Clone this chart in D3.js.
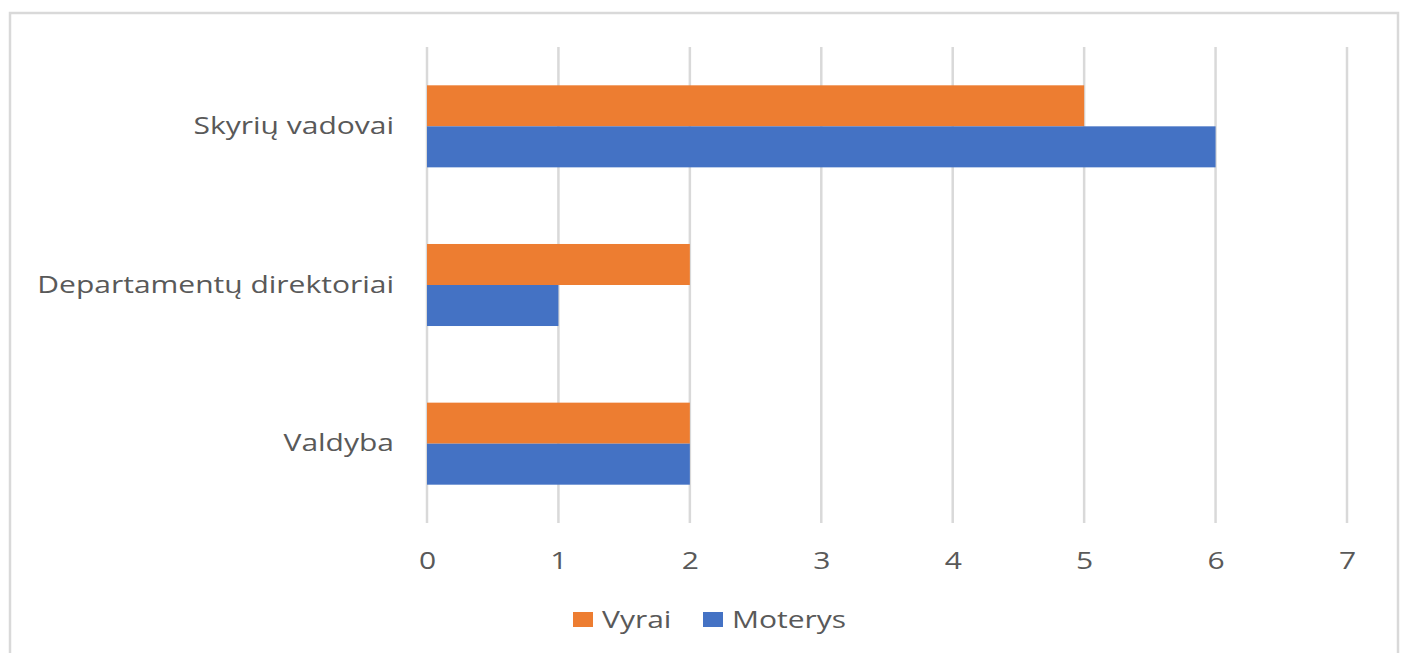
<!DOCTYPE html>
<html>
<head>
<meta charset="utf-8">
<script src="https://cdn.jsdelivr.net/npm/d3@7"></script>
<style>
  body { margin: 0; background: #fff; }
  text { font-family: "Open Sans", "Noto Sans", sans-serif; fill: #595959; }
</style>
</head>
<body>
<svg width="1403" height="653"></svg>
<script>
/* ===============================
   Data
   =============================== */
let categories = ["Skyrių vadovai", "Departamentų direktoriai", "Valdyba"];
let seriesNames = ["Vyrai", "Moterys"];
let vyrai = [5, 2, 2];
let moterys = [6, 1, 2];
let tickValues = [0, 1, 2, 3, 4, 5, 6, 7];
let colors = ["#ed7d31", "#4472c4"];

let rows = categories.map((c, i) => ({ cat: c, values: [vyrai[i], moterys[i]] }));

/* ===============================
   Select SVG, frame
   =============================== */
let svg = d3.select("svg");

svg.append("rect")
    .attr("x", 10)
    .attr("y", 13)
    .attr("width", 1388)
    .attr("height", 700)
    .attr("fill", "none")
    .attr("stroke", "#d9d9d9")
    .attr("stroke-width", 2.5);

/* ===============================
   Scales
   =============================== */
let x = d3.scaleLinear().domain([0, 7]).range([427, 1347]);

let y = d3.scaleBand()
    .domain(categories)
    .range([47, 523])
    .paddingInner(0.483)
    .paddingOuter(0.2415);

let ySub = d3.scaleBand()
    .domain(seriesNames)
    .range([0, y.bandwidth()]);

/* ===============================
   Gridlines
   =============================== */
svg.append("g")
    .selectAll("line")
    .data(tickValues)
    .join("line")
    .attr("x1", d => x(d))
    .attr("x2", d => x(d))
    .attr("y1", 47)
    .attr("y2", 523)
    .attr("stroke", "#d9d9d9")
    .attr("stroke-width", 2.5);

/* ===============================
   Bars
   =============================== */
let groups = svg.append("g")
    .selectAll("g")
    .data(rows)
    .join("g")
    .attr("transform", d => `translate(0,${y(d.cat)})`);

groups.selectAll("rect")
    .data(d => d.values.map((v, i) => ({ name: seriesNames[i], value: v, color: colors[i] })))
    .join("rect")
    .attr("x", x(0))
    .attr("y", d => ySub(d.name))
    .attr("width", d => x(d.value) - x(0))
    .attr("height", ySub.bandwidth())
    .attr("fill", d => d.color);

/* ===============================
   Axis labels (text is a bit wide in the original)
   =============================== */
let stretch = "scale(1.25,1)";

let xAxis = svg.append("g")
    .attr("transform", "translate(0,523)")
    .call(d3.axisBottom(x).tickValues(tickValues).tickFormat(d3.format("d")).tickSize(0).tickPadding(29));
xAxis.select(".domain").remove();
xAxis.selectAll("text")
    .attr("font-size", 24)
    .attr("font-family", null)
    .attr("transform", stretch);

let yAxis = svg.append("g")
    .attr("transform", "translate(394,0)")
    .call(d3.axisLeft(y).tickSize(0).tickPadding(0));
yAxis.select(".domain").remove();
yAxis.selectAll("text")
    .attr("font-size", 24)
    .attr("font-family", null)
    .attr("transform", stretch);

/* ===============================
   Legend
   =============================== */
let legendX = [573, 703];
let legend = svg.append("g")
    .selectAll("g")
    .data(seriesNames)
    .join("g")
    .attr("transform", (d, i) => `translate(${legendX[i]},612)`);

legend.append("rect")
    .attr("width", 20)
    .attr("height", 15)
    .attr("fill", (d, i) => colors[i]);

legend.append("text")
    .attr("transform", "translate(29,16) " + stretch)
    .attr("font-size", 24)
    .text(d => d);
</script>
</body>
</html>
